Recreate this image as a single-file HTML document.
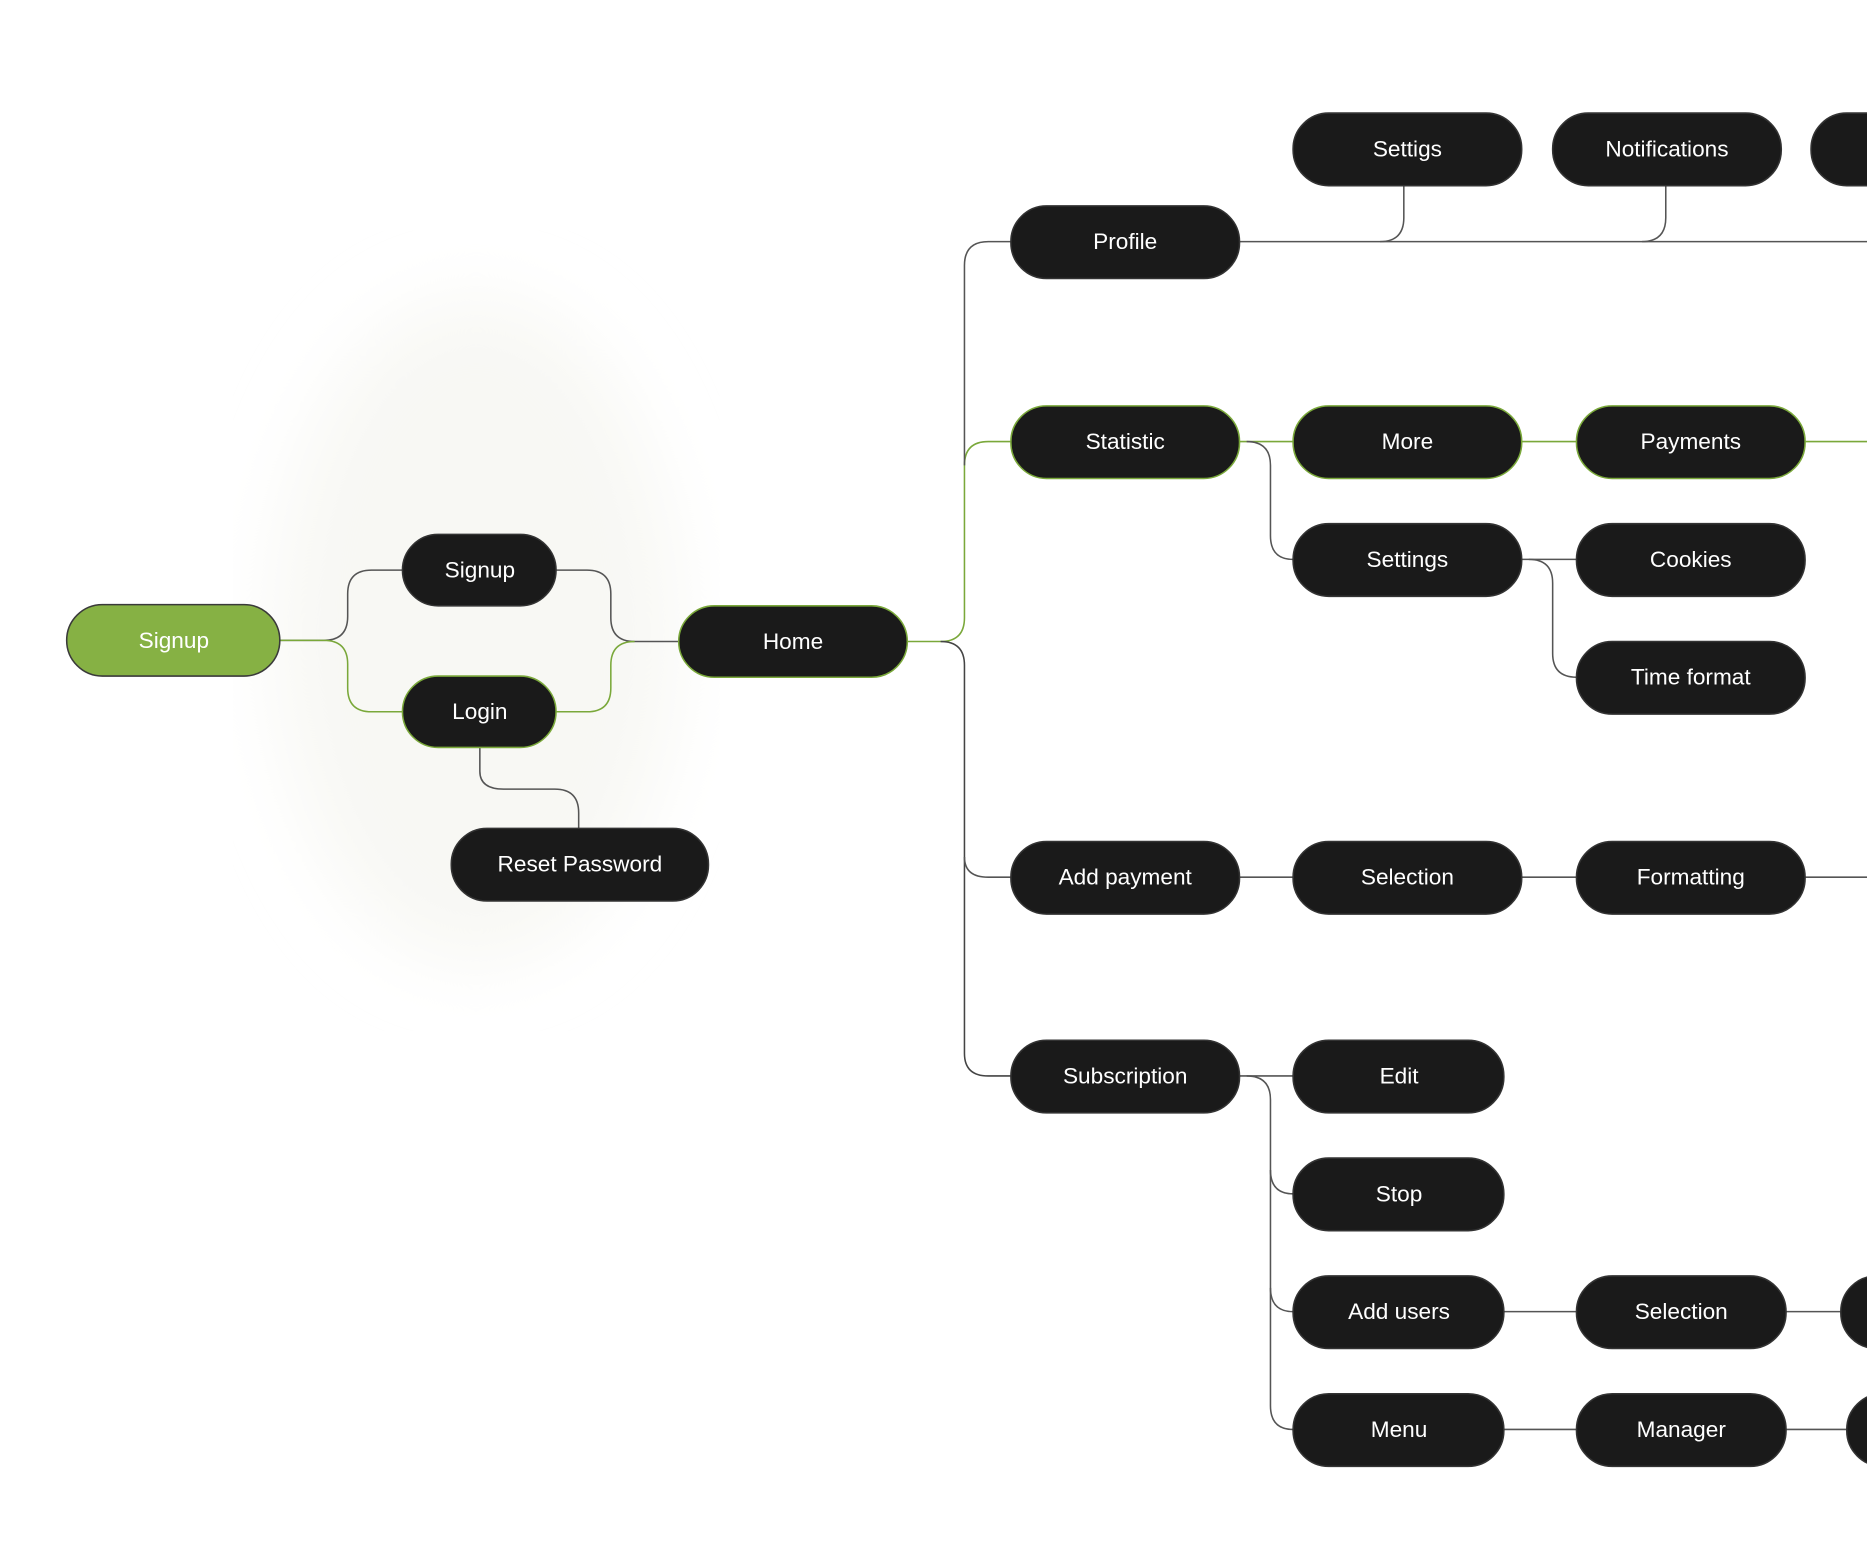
<!DOCTYPE html>
<html><head><meta charset="utf-8"><style>
html,body{margin:0;padding:0;background:#fff;}
svg{display:block;}
text{font-family:"Liberation Sans",sans-serif;font-size:19px;fill:#fff;text-anchor:middle;dominant-baseline:central;}
</style></head><body>
<svg width="1867" height="1558" viewBox="0 0 1568 1309" preserveAspectRatio="none" xmlns="http://www.w3.org/2000/svg">
<defs><filter id="b"><feGaussianBlur stdDeviation="30"/></filter></defs>
<ellipse cx="400" cy="530" rx="170" ry="280" fill="#f8f8f4" filter="url(#b)"/>
<g fill="none" stroke-width="1.3">
<!-- left -->
<path d="M235 538 H272 Q292 538 292 518 V499 Q292 479 312 479 H338" stroke="#555"/>
<path d="M235 538 H272 Q292 538 292 558 V578 Q292 598 312 598 H338" stroke="#7aa83a"/>
<path d="M467 479 H493 Q513 479 513 499 V519 Q513 539 533 539 H570" stroke="#555"/>
<path d="M467 598 H493 Q513 598 513 578 V559 Q513 539 533 539" stroke="#7aa83a"/>
<path d="M403 628 V648 Q403 663 423 663 H466 Q486 663 486 683 V696" stroke="#555"/>
<!-- home trunk -->
<path d="M762 539 H790 Q810 539 810 519 V391 Q810 371 830 371 H849" stroke="#7aa83a"/>
<path d="M790 539 Q810 539 810 559 V885 Q810 904 830 904 H849" stroke="#444"/>
<path d="M810 391 V223 Q810 203 830 203 H849" stroke="#555"/>
<path d="M810 720 Q810 737 830 737 H849" stroke="#555"/>
<!-- profile -->
<path d="M1041 203 H1568" stroke="#555"/>
<path d="M1179 156 V183 Q1179 203 1159 203" stroke="#555"/>
<path d="M1399 156 V183 Q1399 203 1379 203" stroke="#555"/>
<!-- statistic -->
<path d="M1041 371 H1086" stroke="#7aa83a"/>
<path d="M1278 371 H1324 M1516 371 H1568" stroke="#7aa83a"/>
<path d="M1047 371 Q1067 371 1067 391 V450 Q1067 470 1086 470" stroke="#555"/>
<path d="M1278 470 H1324" stroke="#555"/>
<path d="M1284 470 Q1304 470 1304 490 V549 Q1304 569 1324 569" stroke="#555"/>
<!-- add payment -->
<path d="M1041 737 H1086 M1278 737 H1324 M1516 737 H1568" stroke="#555"/>
<!-- subscription -->
<path d="M1041 904 H1086" stroke="#555"/>
<path d="M1047 904 Q1067 904 1067 924 V1181 Q1067 1201 1086 1201" stroke="#555"/>
<path d="M1067 983 Q1067 1003 1086 1003 M1067 1082 Q1067 1102 1086 1102" stroke="#555"/>
<path d="M1263 1102 H1324 M1500 1102 H1546 M1263 1201 H1324 M1500 1201 H1551" stroke="#555"/>
</g>
<g stroke-width="1.3">
<rect x="56" y="508" width="179" height="60" rx="30" fill="#86b144" stroke="#3a3a3a"/>
<rect x="338" y="449" width="129" height="60" rx="30" fill="#1a1a1a" stroke="#333"/>
<rect x="338" y="568" width="129" height="60" rx="30" fill="#1a1a1a" stroke="#7aa83a"/>
<rect x="379" y="696" width="216" height="61" rx="30" fill="#1a1a1a" stroke="#333"/>
<rect x="570" y="509" width="192" height="60" rx="30" fill="#1a1a1a" stroke="#7aa83a"/>
<rect x="849" y="173" width="192" height="61" rx="30" fill="#1a1a1a" stroke="#333"/>
<rect x="849" y="341" width="192" height="61" rx="30" fill="#1a1a1a" stroke="#7aa83a"/>
<rect x="849" y="707" width="192" height="61" rx="30" fill="#1a1a1a" stroke="#333"/>
<rect x="849" y="874" width="192" height="61" rx="30" fill="#1a1a1a" stroke="#333"/>
<rect x="1086" y="95" width="192" height="61" rx="30" fill="#1a1a1a" stroke="#333"/>
<rect x="1304" y="95" width="192" height="61" rx="30" fill="#1a1a1a" stroke="#333"/>
<rect x="1521" y="95" width="192" height="61" rx="30" fill="#1a1a1a" stroke="#333"/>
<rect x="1086" y="341" width="192" height="61" rx="30" fill="#1a1a1a" stroke="#7aa83a"/>
<rect x="1324" y="341" width="192" height="61" rx="30" fill="#1a1a1a" stroke="#7aa83a"/>
<rect x="1086" y="440" width="192" height="61" rx="30" fill="#1a1a1a" stroke="#333"/>
<rect x="1324" y="440" width="192" height="61" rx="30" fill="#1a1a1a" stroke="#333"/>
<rect x="1324" y="539" width="192" height="61" rx="30" fill="#1a1a1a" stroke="#333"/>
<rect x="1086" y="707" width="192" height="61" rx="30" fill="#1a1a1a" stroke="#333"/>
<rect x="1324" y="707" width="192" height="61" rx="30" fill="#1a1a1a" stroke="#333"/>
<rect x="1086" y="874" width="177" height="61" rx="30" fill="#1a1a1a" stroke="#333"/>
<rect x="1086" y="973" width="177" height="61" rx="30" fill="#1a1a1a" stroke="#333"/>
<rect x="1086" y="1072" width="177" height="61" rx="30" fill="#1a1a1a" stroke="#333"/>
<rect x="1086" y="1171" width="177" height="61" rx="30" fill="#1a1a1a" stroke="#333"/>
<rect x="1324" y="1072" width="176" height="61" rx="30" fill="#1a1a1a" stroke="#333"/>
<rect x="1324" y="1171" width="176" height="61" rx="30" fill="#1a1a1a" stroke="#333"/>
<rect x="1546" y="1072" width="176" height="61" rx="30" fill="#1a1a1a" stroke="#333"/>
<rect x="1551" y="1171" width="176" height="61" rx="30" fill="#1a1a1a" stroke="#333"/>
</g>
<text x="146" y="538">Signup</text>
<text x="403" y="479">Signup</text>
<text x="403" y="598">Login</text>
<text x="487" y="726">Reset Password</text>
<text x="666" y="539">Home</text>
<text x="945" y="203">Profile</text>
<text x="945" y="371">Statistic</text>
<text x="945" y="737">Add payment</text>
<text x="945" y="904">Subscription</text>
<text x="1182" y="125">Settigs</text>
<text x="1400" y="125">Notifications</text>
<text x="1182" y="371">More</text>
<text x="1420" y="371">Payments</text>
<text x="1182" y="470">Settings</text>
<text x="1420" y="470">Cookies</text>
<text x="1420" y="569">Time format</text>
<text x="1182" y="737">Selection</text>
<text x="1420" y="737">Formatting</text>
<text x="1175" y="904">Edit</text>
<text x="1175" y="1003">Stop</text>
<text x="1175" y="1102">Add users</text>
<text x="1175" y="1201">Menu</text>
<text x="1412" y="1102">Selection</text>
<text x="1412" y="1201">Manager</text>
</svg>
</body></html>
